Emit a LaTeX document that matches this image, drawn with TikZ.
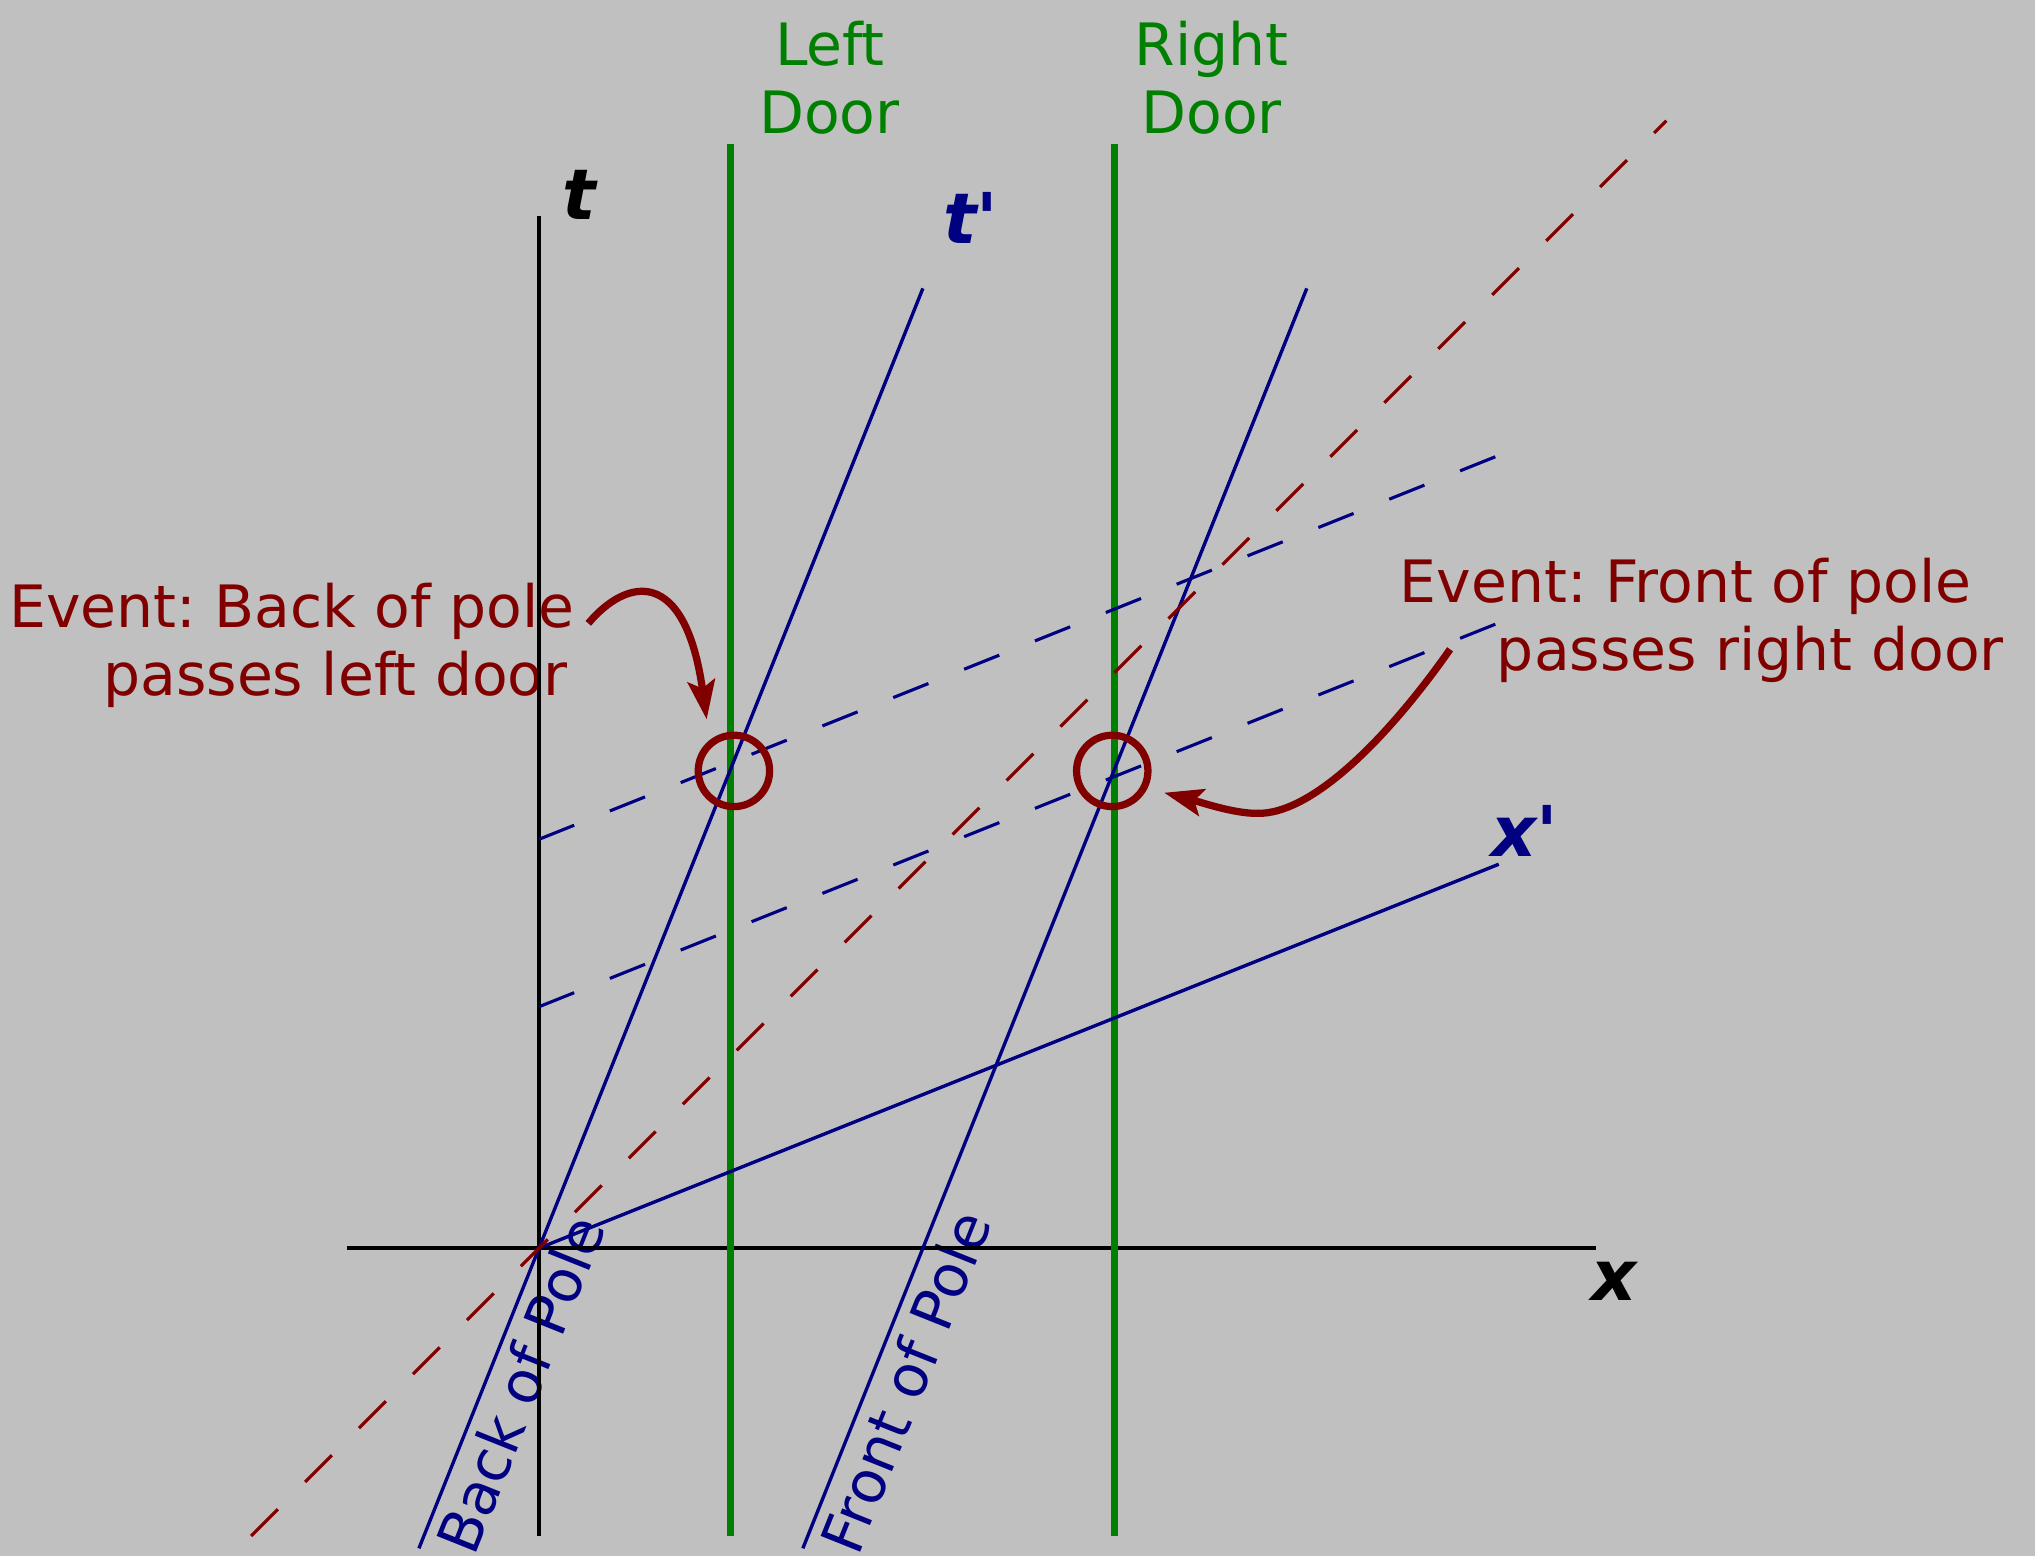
\documentclass[tikz,border=0pt]{standalone}
\usepackage{fontspec}
\setmainfont{DejaVu Sans}[Ligatures=TeXOff]
\usetikzlibrary{arrows.meta}
\definecolor{bgc}{RGB}{192,192,192}
\definecolor{navyc}{RGB}{0,0,128}
\definecolor{redc}{RGB}{128,0,0}
\definecolor{greenc}{RGB}{0,128,0}
\frenchspacing
\begin{document}
\begin{tikzpicture}[x=0.5pt,y=-0.5pt,
  axisline/.style={black,line width=1.3pt},
  doorline/.style={greenc,line width=2.8pt},
  poleline/.style={navyc,line width=1.3pt},
  simline/.style={navyc,line width=1.2pt,dash pattern=on 14.6pt off 14.8pt},
  lightline/.style={redc,line width=1.2pt,dash pattern=on 14.6pt off 14.8pt},
  evcircle/.style={circle,draw=redc,line width=2.8pt,minimum size=27.5pt,inner sep=0pt},
  evarrow/.style={redc,line width=2.8pt,-{Stealth[length=15pt,width=10.5pt,inset=3pt]}},
  evtext/.style={redc,inner sep=0pt,font=\fontsize{22.5pt}{27pt}\selectfont},
  doortext/.style={greenc,inner sep=0pt,anchor=base,font=\fontsize{22.5pt}{27pt}\selectfont},
  poletext/.style={navyc,inner sep=0pt,font=\fontsize{22.5pt}{27pt}\selectfont,rotate=68.2,anchor=base west},
  axlabel/.style={inner sep=0pt,anchor=base,font=\fontsize{27pt}{32pt}\selectfont}]
\fill[bgc] (0,0) rectangle (1568,1199);
\useasboundingbox (0,0) rectangle (1568,1199);

% texts
\node[evtext,anchor=base east] (ev1a) at (443.3,483.4) {Event: Back of pole};
\node[evtext,anchor=base east] (ev1b) at (437.8,535.8) {passes left door};
\node[evtext,anchor=base west] (ev2a) at (1078.2,464.4) {Event: Front of pole};
\node[evtext,anchor=base west] (ev2b) at (1153,516.8) {passes right door};
\node[doortext] (ld1) at (639.5,50.6) {Left};
\node[doortext] (ld2) at (639,102.7) {Door};
\node[doortext] (rd1) at (933.5,50.6) {Right};
\node[doortext] (rd2) at (933.5,102.7) {Door};
\node[poletext] (bpl) at (365.2,1200.8) {Back of Pole};
\node[poletext] (fpl) at (661,1200.8) {Front of Pole};
\node[axlabel,black] (tl) at (446,169.5) {\bfseries\itshape t};
\node[axlabel,navyc] (tpl) at (748,187.5) {\bfseries\itshape t\upshape'};
\node[axlabel,navyc] (xpl) at (1175,659.6) {\bfseries\itshape x\upshape'};
\node[axlabel,black] (xl) at (1243.5,1001.7) {\bfseries\itshape x};

% coordinates
\coordinate (O) at (415.3,961.7);
\coordinate (taxb) at (415.3,1183.5);
\coordinate (taxt) at (415.3,166.4);
\coordinate (xaxl) at (267.4,961.7);
\coordinate (xaxr) at (1229.5,961.7);
\coordinate (ldb) at (563.1,1183.5);
\coordinate (ldt) at (563.1,111);
\coordinate (rdb) at (859,1183.5);
\coordinate (rdt) at (859,111);
\coordinate (bpb) at (322.8,1193);
\coordinate (bpt) at (711.1,222.2);
\coordinate (fpb) at (618.6,1193);
\coordinate (fpt) at (1006.9,222.2);
\coordinate (xpe) at (1154.8,665.9);
\coordinate (s1a) at (415.3,646.7);
\coordinate (s1b) at (1154.8,350.9);
\coordinate (s2a) at (415.3,775.7);
\coordinate (s2b) at (1154.8,479.9);
\coordinate (lla) at (193.5,1183.5);
\coordinate (llb) at (1284,93);

% axes
\draw[axisline] (taxb) -- (taxt);
\draw[axisline] (xaxl) -- (xaxr);
% doors
\draw[doorline] (ldb) -- (ldt);
\draw[doorline] (rdb) -- (rdt);
% pole world lines and x'
\draw[poleline] (bpb) -- (bpt);
\draw[poleline] (fpb) -- (fpt);
\draw[poleline] (O) -- (xpe);
% simultaneity lines
\draw[simline] (s1a) -- (s1b);
\draw[simline] (s2a) -- (s2b);
% light line
\draw[lightline] (lla) -- (llb);

% events
\node[evcircle] (c1) at (565.5,594) {};
\node[evcircle] (c2) at (857,594) {};

% arrows
\coordinate (a1s) at (453.3,480.3);
\coordinate (a1e) at (544.5,554.3);
\coordinate (a2s) at (1117.3,500.3);
\coordinate (a2m) at (968.3,626.7);
\coordinate (a2e) at (897,610.8);
\draw[evarrow] (a1s) .. controls (483,445) and (528,436) .. (a1e);
\draw[evarrow] (a2s) .. controls (1072,565) and (1012,628) .. (a2m) .. controls (950,626.7) and (925,618) .. (a2e);
\end{tikzpicture}
\end{document}
